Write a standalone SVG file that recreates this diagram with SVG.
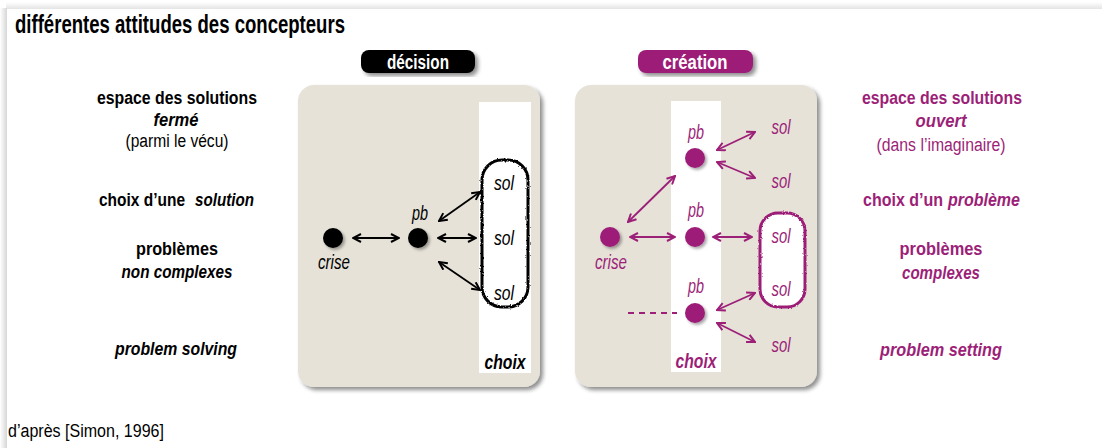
<svg xmlns="http://www.w3.org/2000/svg" width="1102" height="448" viewBox="0 0 1102 448">
<defs>
<linearGradient id="topsh" x1="0" y1="0" x2="0" y2="1"><stop offset="0" stop-color="#ffffff"/><stop offset="1" stop-color="#e4e4e4"/></linearGradient>
<linearGradient id="leftsh" x1="0" y1="0" x2="1" y2="0"><stop offset="0" stop-color="#ffffff"/><stop offset="1" stop-color="#d6d6d6"/></linearGradient>
<filter id="sh" x="-10%" y="-10%" width="125%" height="125%"><feGaussianBlur in="SourceAlpha" stdDeviation="2"/><feOffset dx="3" dy="3"/><feComponentTransfer><feFuncA type="linear" slope="0.45"/></feComponentTransfer><feMerge><feMergeNode/><feMergeNode in="SourceGraphic"/></feMerge></filter>
<filter id="dsh" x="-50%" y="-50%" width="200%" height="200%"><feGaussianBlur in="SourceAlpha" stdDeviation="1.5"/><feOffset dx="2" dy="2"/><feComponentTransfer><feFuncA type="linear" slope="0.35"/></feComponentTransfer><feMerge><feMergeNode/><feMergeNode in="SourceGraphic"/></feMerge></filter>
<filter id="rough" x="-10%" y="-10%" width="120%" height="120%"><feTurbulence type="fractalNoise" baseFrequency="0.6" numOctaves="2" seed="3"/><feDisplacementMap in="SourceGraphic" scale="2.5" xChannelSelector="R" yChannelSelector="G"/></filter>
<marker id="ak" viewBox="0 0 10 10" refX="9" refY="5" markerWidth="10" markerHeight="10" markerUnits="userSpaceOnUse" orient="auto-start-reverse"><path d="M1,1 L9,5 L1,9" fill="none" stroke="#000" stroke-width="2" stroke-linejoin="miter"/></marker>
<marker id="ap" viewBox="0 0 10 10" refX="9" refY="5" markerWidth="10" markerHeight="10" markerUnits="userSpaceOnUse" orient="auto-start-reverse"><path d="M1,1 L9,5 L1,9" fill="none" stroke="#9c1f78" stroke-width="2" stroke-linejoin="miter"/></marker>
</defs>
<style>
text{font-family:"Liberation Sans",Arial,sans-serif}
.b{font-weight:bold}
.i{font-style:italic}
.lbl{font-size:18px;text-anchor:middle}
.st{font-size:18px;text-anchor:start}
.k{fill:#000}
.p{fill:#9c1f78}
.n{font-size:20px;font-style:italic;text-anchor:middle}
.ck{stroke:#000;stroke-width:1.8;fill:none;marker-start:url(#ak);marker-end:url(#ak)}
.cp{stroke:#9c1f78;stroke-width:1.8;fill:none;marker-start:url(#ap);marker-end:url(#ap)}
.panel{fill:#e6e2d8}
</style>
<rect width="1102" height="448" fill="#fff"/>
<rect x="6" y="2" width="1096" height="7" fill="url(#topsh)"/>
<rect x="0" y="8" width="7" height="440" fill="url(#leftsh)"/>
<text x="15" y="33" class="b" font-size="25" textLength="330" lengthAdjust="spacingAndGlyphs">différentes attitudes des concepteurs</text>

<g id="left-labels" class="k">
<text x="177" y="104" class="lbl b" textLength="160" lengthAdjust="spacingAndGlyphs">espace des solutions</text>
<text x="176" y="126" class="lbl b i" textLength="45" lengthAdjust="spacingAndGlyphs">fermé</text>
<text x="177" y="147" class="lbl" textLength="103" lengthAdjust="spacingAndGlyphs">(parmi le vécu)</text>
<text x="99" y="206" class="st b" textLength="86" lengthAdjust="spacingAndGlyphs">choix d’une</text>
<text x="195" y="206" class="st b i" textLength="59" lengthAdjust="spacingAndGlyphs">solution</text>
<text x="177" y="255" class="lbl b" textLength="82" lengthAdjust="spacingAndGlyphs">problèmes</text>
<text x="177" y="278" class="lbl b i" textLength="111" lengthAdjust="spacingAndGlyphs">non complexes</text>
<text x="176" y="355" class="lbl b i" textLength="122" lengthAdjust="spacingAndGlyphs">problem solving</text>
</g>

<g id="right-labels" class="p">
<text x="942" y="104" class="lbl b" textLength="160" lengthAdjust="spacingAndGlyphs">espace des solutions</text>
<text x="941" y="127" class="lbl b i" textLength="51" lengthAdjust="spacingAndGlyphs">ouvert</text>
<text x="941" y="151" class="lbl" textLength="129" lengthAdjust="spacingAndGlyphs">(dans l’imaginaire)</text>
<text x="863" y="206" class="st b" textLength="80" lengthAdjust="spacingAndGlyphs">choix d’un</text>
<text x="948" y="206" class="st b i" textLength="72" lengthAdjust="spacingAndGlyphs">problème</text>
<text x="941" y="255" class="lbl b" textLength="83" lengthAdjust="spacingAndGlyphs">problèmes</text>
<text x="941" y="279" class="lbl b i" textLength="78" lengthAdjust="spacingAndGlyphs">complexes</text>
<text x="941" y="356" class="lbl b i" textLength="122" lengthAdjust="spacingAndGlyphs">problem setting</text>
</g>

<g id="decision-panel">
<rect x="298" y="85" width="242" height="302" rx="16" class="panel" filter="url(#sh)"/>
<rect x="479" y="102" width="52" height="271" fill="#fff"/>
<text x="505" y="369" class="b i k" font-size="20" text-anchor="middle" textLength="41" lengthAdjust="spacingAndGlyphs">choix</text>
</g>
<g id="decision-tag">
<rect x="361" y="50" width="114" height="23" rx="8" fill="#000" filter="url(#sh)"/>
<text x="418" y="69" class="b" font-size="20" fill="#fff" text-anchor="middle" textLength="62" lengthAdjust="spacingAndGlyphs">décision</text>
</g>

<g id="creation-panel">
<rect x="575" y="85" width="242" height="302" rx="16" class="panel" filter="url(#sh)"/>
<rect x="671" y="101" width="50" height="271" fill="#fff"/>
<text x="696" y="368" class="b i p" font-size="20" text-anchor="middle" textLength="41" lengthAdjust="spacingAndGlyphs">choix</text>
</g>
<g id="creation-tag">
<rect x="638" y="50" width="115" height="23" rx="8" fill="#9c1f78" filter="url(#sh)"/>
<text x="695" y="69" class="b" font-size="20" fill="#fff" text-anchor="middle" textLength="65" lengthAdjust="spacingAndGlyphs">création</text>
</g>

<g id="d-sol-group">
<rect x="482" y="160" width="46" height="147" rx="20" fill="#fff" stroke="#000" stroke-width="3" filter="url(#rough)"/>
<text x="504" y="190" class="n k" textLength="20" lengthAdjust="spacingAndGlyphs">sol</text>
<text x="504" y="245" class="n k" textLength="20" lengthAdjust="spacingAndGlyphs">sol</text>
<text x="504" y="300" class="n k" textLength="20" lengthAdjust="spacingAndGlyphs">sol</text>
</g>
<g id="d-crise"><circle cx="333" cy="238" r="10" class="k" filter="url(#dsh)"/><text x="334" y="269" class="n k" textLength="32" lengthAdjust="spacingAndGlyphs">crise</text></g>
<g id="d-pb"><circle cx="418" cy="238" r="10" class="k" filter="url(#dsh)"/><text x="420" y="220" class="n k" textLength="16" lengthAdjust="spacingAndGlyphs">pb</text></g>

<g id="c-sol-group">
<rect x="760" y="213" width="45" height="94" rx="18" fill="#fff" stroke="#9c1f78" stroke-width="3" filter="url(#rough)"/>
<text x="781" y="243" class="n p" textLength="19" lengthAdjust="spacingAndGlyphs">sol</text>
<text x="781" y="296" class="n p" textLength="19" lengthAdjust="spacingAndGlyphs">sol</text>
</g>
<g id="c-sol1"><text x="781" y="134" class="n p" textLength="19" lengthAdjust="spacingAndGlyphs">sol</text></g>
<g id="c-sol2"><text x="781" y="188" class="n p" textLength="19" lengthAdjust="spacingAndGlyphs">sol</text></g>
<g id="c-sol5"><text x="781" y="352" class="n p" textLength="19" lengthAdjust="spacingAndGlyphs">sol</text></g>
<g id="c-crise"><circle cx="610" cy="237" r="10" class="p" filter="url(#dsh)"/><text x="611" y="269" class="n p" textLength="32" lengthAdjust="spacingAndGlyphs">crise</text></g>
<g id="c-pb1"><circle cx="695" cy="158" r="10" class="p" filter="url(#dsh)"/><text x="696" y="139" class="n p" textLength="16" lengthAdjust="spacingAndGlyphs">pb</text></g>
<g id="c-pb2"><circle cx="695" cy="237" r="10" class="p" filter="url(#dsh)"/><text x="696" y="217" class="n p" textLength="16" lengthAdjust="spacingAndGlyphs">pb</text></g>
<g id="c-pb3"><circle cx="695" cy="313" r="10" class="p" filter="url(#dsh)"/><text x="696" y="293" class="n p" textLength="16" lengthAdjust="spacingAndGlyphs">pb</text></g>

<g id="connectors">
<line x1="353" y1="238" x2="399" y2="238" class="ck"/>
<line x1="438" y1="238" x2="476" y2="238" class="ck"/>
<line x1="439" y1="221" x2="480" y2="192" class="ck"/>
<line x1="439" y1="262" x2="480" y2="290" class="ck"/>
<line x1="628" y1="222" x2="675" y2="176" class="cp"/>
<line x1="630" y1="237" x2="675" y2="237" class="cp"/>
<line x1="717" y1="150" x2="755" y2="132" class="cp"/>
<line x1="717" y1="162" x2="755" y2="178" class="cp"/>
<line x1="713" y1="237" x2="752" y2="237" class="cp"/>
<line x1="717" y1="310" x2="755" y2="293" class="cp"/>
<line x1="717" y1="323" x2="755" y2="342" class="cp"/>
<line x1="628" y1="313" x2="677" y2="313" stroke="#9c1f78" stroke-width="2" stroke-dasharray="6,5"/>
</g>

<text x="8" y="437" font-size="18" class="k" textLength="156" lengthAdjust="spacingAndGlyphs">d’après [Simon, 1996]</text>
</svg>
